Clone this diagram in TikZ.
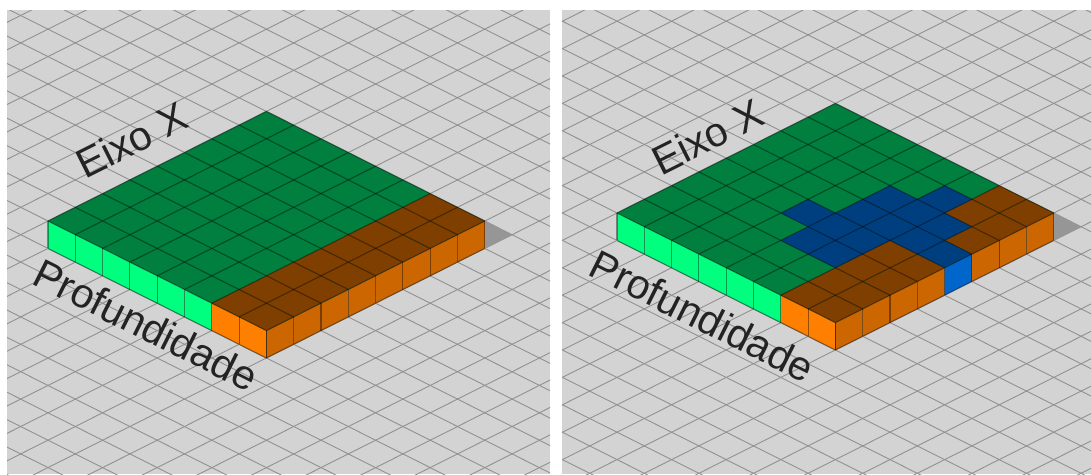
\documentclass[tikz,border=0pt]{standalone}
\usepackage{fontspec}
\setmainfont{Liberation Sans}

\definecolor{panelbg}{RGB}{211,211,211}
\definecolor{gridgray}{RGB}{145,145,145}
\definecolor{shadowgray}{RGB}{150,150,150}
\definecolor{topgreen}{RGB}{0,127,63}
\definecolor{sidegreen}{RGB}{0,255,127}
\definecolor{toporange}{RGB}{127,63,0}
\definecolor{sideorangeL}{RGB}{255,127,0}
\definecolor{sideorangeR}{RGB}{204,102,0}
\definecolor{topblue}{RGB}{0,63,127}
\definecolor{sideblueR}{RGB}{0,102,204}
\definecolor{labelink}{RGB}{35,35,35}

\begin{document}
\begin{tikzpicture}[x=1pt,y=-1pt,
  gridline/.style={draw=gridgray, line width=0.9pt},
  celledge/.style={draw=black, draw opacity=0.4, line width=1.1pt},
  iso/.style={x={(27.3pt,13.7pt)}, y={(27.3pt,-13.7pt)}, z={(0pt,27.4pt)}},
  axislabel/.style={inner sep=0pt, anchor=base, text=labelink,
    font=\fontsize{41pt}{46pt}\selectfont}]

\useasboundingbox (0,0) rectangle (1091,474);
\fill[white] (0,0) rectangle (1091,474);

% ---------- left panel: green field with an orange strip ----------
\begin{scope}
  \clip (7,10) rectangle (550,474);
  \fill[panelbg] (7,10) rectangle (550,474);
  \begin{scope}[shift={(48,221)}, iso]
    % floor grid
    \foreach \k in {-25,...,40}{
      \draw[gridline] (\k,-25,0) -- (\k,40,0);
      \draw[gridline] (-25,\k,0) -- (40,\k,0);
    }
    % cast shadow
    \fill[shadowgray] (8,8,0) -- (8,8,-1) -- (9,8,-1) -- cycle;
    % front-left faces
    \foreach \j/\c in {0/sidegreen,1/sidegreen,2/sidegreen,3/sidegreen,
                       4/sidegreen,5/sidegreen,6/sideorangeL,7/sideorangeL}
      \fill[\c] (0,\j,0) -- ++(0,1,0) -- ++(0,0,-1) -- ++(0,-1,0) -- cycle;
    % front-right faces
    \foreach \i in {0,...,7}
      \fill[sideorangeR] (\i,8,0) -- ++(1,0,0) -- ++(0,0,-1) -- ++(-1,0,0) -- cycle;
    % top
    \fill[topgreen] (0,0,0) -- (8,0,0) -- (8,8,0) -- (0,8,0) -- cycle;
    \foreach \i in {0,...,7}
      \foreach \j in {6,7}
        \fill[toporange] (\i,\j,0) -- ++(1,0,0) -- ++(0,1,0) -- ++(-1,0,0) -- cycle;
    % cube edges
    \foreach \k in {0,...,8}{
      \draw[celledge] (\k,0,0) -- (\k,8,0);
      \draw[celledge] (0,\k,0) -- (8,\k,0);
      \draw[celledge] (0,\k,0) -- (0,\k,-1);
      \draw[celledge] (\k,8,0) -- (\k,8,-1);
    }
    \draw[celledge] (0,0,-1) -- (0,8,-1) -- (8,8,-1);
  \end{scope}
  \node[axislabel, rotate=26.57] (eixoL) at (138,153) {Eixo X};
  \node[axislabel, rotate=-26.57] (profL) at (139.5,338) {Profundidade};
\end{scope}

% ---------- right panel: field with water and earth ----------
\begin{scope}
  \clip (562,10) rectangle (1091,474);
  \fill[panelbg] (562,10) rectangle (1091,474);
  \begin{scope}[shift={(617,213)}, iso]
    % floor grid
    \foreach \k in {-25,...,40}{
      \draw[gridline] (\k,-25,0) -- (\k,40,0);
      \draw[gridline] (-25,\k,0) -- (40,\k,0);
    }
    % cast shadow
    \fill[shadowgray] (8,8,0) -- (8,8,-1) -- (9,8,-1) -- cycle;
    % front-left faces
    \foreach \j/\c in {0/sidegreen,1/sidegreen,2/sidegreen,3/sidegreen,
                       4/sidegreen,5/sidegreen,6/sideorangeL,7/sideorangeL}
      \fill[\c] (0,\j,0) -- ++(0,1,0) -- ++(0,0,-1) -- ++(0,-1,0) -- cycle;
    % front-right faces
    \foreach \i/\c in {0/sideorangeR,1/sideorangeR,2/sideorangeR,3/sideorangeR,
                       4/sideblueR,5/sideorangeR,6/sideorangeR,7/sideorangeR}
      \fill[\c] (\i,8,0) -- ++(1,0,0) -- ++(0,0,-1) -- ++(-1,0,0) -- cycle;
    % top
    \fill[topgreen] (0,0,0) -- (8,0,0) -- (8,8,0) -- (0,8,0) -- cycle;
    \foreach \i/\j in {0/6,1/6,2/6,3/6,6/6,7/6,0/7,1/7,2/7,3/7,5/7,6/7,7/7}
      \fill[toporange] (\i,\j,0) -- ++(1,0,0) -- ++(0,1,0) -- ++(-1,0,0) -- cycle;
    \foreach \i/\j in {3/3,2/4,3/4,4/4,5/4,2/5,3/5,4/5,5/5,6/5,4/6,5/6,4/7}
      \fill[topblue] (\i,\j,0) -- ++(1,0,0) -- ++(0,1,0) -- ++(-1,0,0) -- cycle;
    % cube edges
    \foreach \k in {0,...,8}{
      \draw[celledge] (\k,0,0) -- (\k,8,0);
      \draw[celledge] (0,\k,0) -- (8,\k,0);
      \draw[celledge] (0,\k,0) -- (0,\k,-1);
      \draw[celledge] (\k,8,0) -- (\k,8,-1);
    }
    \draw[celledge] (0,0,-1) -- (0,8,-1) -- (8,8,-1);
  \end{scope}
  \node[axislabel, rotate=26.57] (eixoR) at (714,149.5) {Eixo X};
  \node[axislabel, rotate=-26.57] (profR) at (695.8,329) {Profundidade};
\end{scope}

\end{tikzpicture}
\end{document}
